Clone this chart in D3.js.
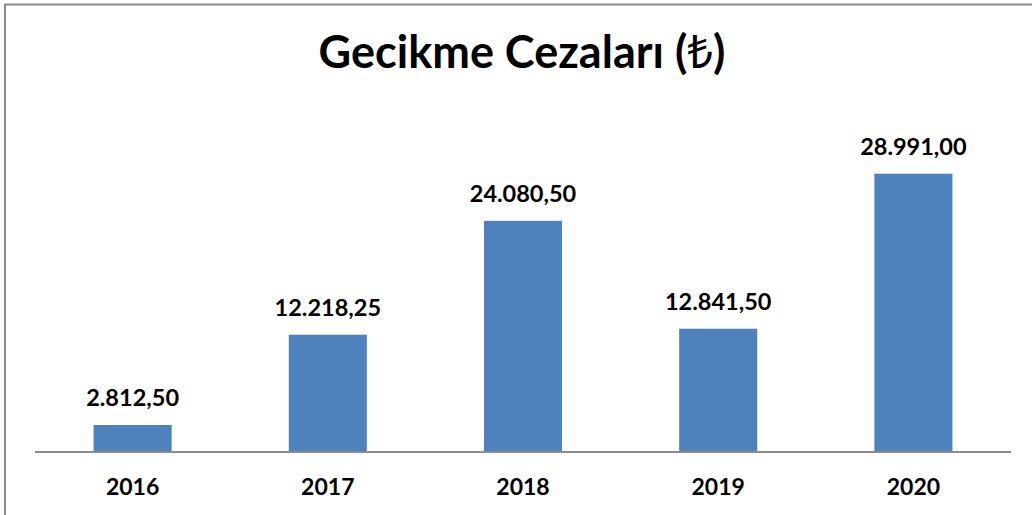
<!DOCTYPE html>
<html>
<head>
<meta charset="utf-8">
<script src="https://cdn.jsdelivr.net/npm/d3@7"></script>
<style>
  html, body { margin: 0; padding: 0; background: #fff; overflow: hidden; }
  svg { display: block; }
</style>
</head>
<body>
<svg id="chart" width="1032" height="515"></svg>
<script>
const title = "Gecikme Cezaları (₺)";
const years = ["2016", "2017", "2018", "2019", "2020"];
const values = [2812.50, 12218.25, 24080.50, 12841.50, 28991.00];
const valueLabels = ["2.812,50", "12.218,25", "24.080,50", "12.841,50", "28.991,00"];

const W = 1032, H = 515;
const svg = d3.select("#chart");
const fontFam = "Lato, 'Open Sans', 'Noto Sans', 'DejaVu Sans', sans-serif";

// chart border
svg.append("rect")
  .attr("x", 5).attr("y", 4.5)
  .attr("width", W + 10).attr("height", H + 10)
  .attr("fill", "#fff")
  .attr("stroke", "#8c8c8c").attr("stroke-width", 2);

const plot = { left: 35, right: 1011, top: 116, bottom: 452 };

const x = d3.scaleBand()
  .domain(years)
  .range([plot.left, plot.right])
  .paddingInner(0.6)
  .paddingOuter(0.3);

const y = d3.scaleLinear()
  .domain([0, 35000])
  .range([plot.bottom, plot.top]);

// title (currency sign drawn in Noto Sans for its standard glyph shape)
const titleText = svg.append("text")
  .attr("x", 522).attr("y", 68)
  .attr("text-anchor", "middle")
  .attr("font-family", fontFam)
  .attr("font-weight", "bold")
  .attr("font-size", 45)
  .attr("fill", "#000");
title.split(/(₺)/).filter(s => s.length).forEach(part => {
  const t = titleText.append("tspan").text(part);
  if (part === "₺") t.attr("font-family", "'Noto Sans', 'DejaVu Sans', sans-serif").attr("font-weight", "normal");
});

// bars
svg.selectAll("rect.bar")
  .data(years)
  .join("rect")
  .attr("class", "bar")
  .attr("x", d => x(d))
  .attr("width", x.bandwidth())
  .attr("y", (d, i) => y(values[i]))
  .attr("height", (d, i) => y(0) - y(values[i]))
  .attr("fill", "#4F81BD");

// value labels
svg.selectAll("text.val")
  .data(years)
  .join("text")
  .attr("class", "val")
  .attr("x", d => x(d) + x.bandwidth() / 2)
  .attr("y", (d, i) => y(values[i]) - 19)
  .attr("text-anchor", "middle")
  .attr("font-family", fontFam)
  .attr("font-weight", "bold")
  .attr("font-size", 23.5)
  .attr("fill", "#000")
  .text((d, i) => valueLabels[i]);

// x axis
const xAxis = d3.axisBottom(x).tickSize(0).tickPadding(0);
const gx = svg.append("g")
  .attr("transform", `translate(0,${plot.bottom})`)
  .call(xAxis);
gx.select(".domain").attr("stroke", "#8c8c8c").attr("stroke-width", 2)
  .attr("d", `M${plot.left},0H${plot.right}`);
gx.selectAll(".tick text")
  .attr("y", 43)
  .attr("dy", 0)
  .attr("font-family", fontFam)
  .attr("font-weight", "bold")
  .attr("font-size", 23)
  .attr("fill", "#000");
</script>
</body>
</html>
